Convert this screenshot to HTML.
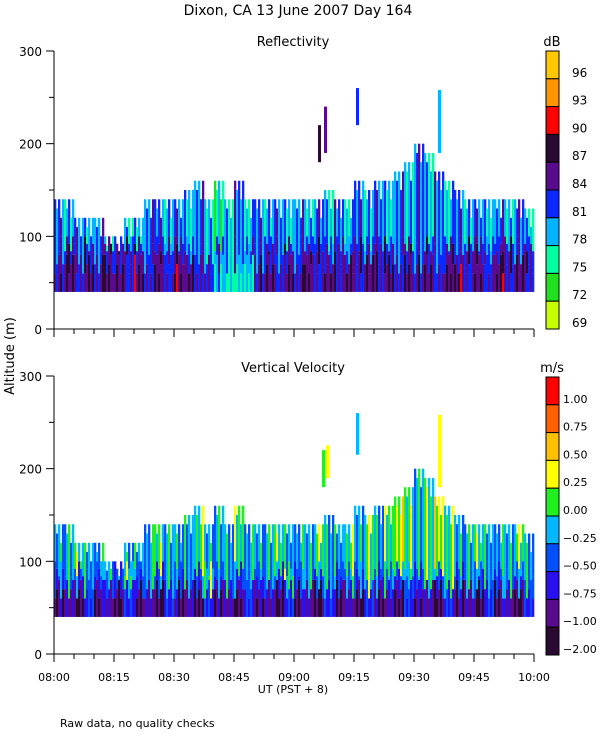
<!DOCTYPE html>
<html><head><meta charset="utf-8"><style>
body{margin:0;background:#fff;}
svg{display:block;font-family:"DejaVu Sans","Liberation Sans",sans-serif;}
</style></head><body>
<svg id="c" width="600" height="750" viewBox="0 0 600 750">
<text x="298" y="15" font-size="14" text-anchor="middle">Dixon, CA 13 June 2007  Day 164</text>
<text x="293" y="46" font-size="13" text-anchor="middle">Reflectivity</text>
<text x="293" y="372" font-size="13" text-anchor="middle">Vertical Velocity</text>
<text x="552" y="46" font-size="13" text-anchor="middle">dB</text>
<text x="552" y="372" font-size="13" text-anchor="middle">m/s</text>
<text transform="translate(14,356) rotate(-90)" font-size="13" text-anchor="middle">Altitude (m)</text>
<text x="293" y="693" font-size="11" text-anchor="middle">UT  (PST + 8)</text>
<text x="60" y="727" font-size="11">Raw data, no quality checks</text>
<g id="g"></g>
</svg>
<script>
const timeTicks=["08:00","08:15","08:30","08:45","09:00","09:15","09:30","09:45","10:00"];
const altTicks=[0,100,200,300];
const dbLabels=["96","93","90","87","84","81","78","75","72","69"];
const velLabels=["1.00","0.75","0.50","0.25","0.00","\u22120.25","\u22120.50","\u22120.75","\u22121.00","\u22122.00"];
const tops=[140,140,120,120,120,100,80,120,120,140,140,140,140,150,160,140,160,140,160,140,140,140,140,140,140,140,140,150,140,140,160,150,160,160,170,180,200,190,170,160,150,140,140,140,140,140,140,130];
const refBot="565656656565665533335656565656565656565665656565";
const refMid="454545555454544343444545455454545545454545545545";
const refTop="434343433443434323434343434343434343434343434343";
const velBot="121312131213121312131213121312131213121312131213";
const velMid="343434353434343534343435343434353434353534343434";
const velTop="445444544454445444544454445445454565456544544454";
const refEchoes=[[66,180,220,6],[67.5,190,240,5],[75.5,220,260,4],[96,190,258,3]];
const velEchoes=[[67,180,220,5],[68,190,225,6],[75.5,215,260,4],[96,180,258,6]];
const refColors=["#c8ff00","#20e020","#00ffa0","#00b4ff","#0a28ff","#5a0a8c","#2a0a30","#ff0000","#ff9600","#ffc800"];
const velColors=["#2a0a30","#5a0a8c","#2a10f0","#0050ff","#00b8ff","#20f020","#ffff00","#ffc000","#ff6000","#ff0000"];
const NS="http://www.w3.org/2000/svg";
const g=document.getElementById('g');
const X0=54,X1=534;
function xScale(min){return X0+(X1-X0)*min/120;}
function yScale(base,v){return base-v*278/300;}
function el(t,a){const e=document.createElementNS(NS,t);for(const k in a)e.setAttribute(k,a[k]);g.appendChild(e);return e;}
const subOff=[0,-1,0,1,-1];
function panel(base,bot,mid,top,cols,echoes,nm){
  const bw=(X1-X0)/tops.length;
  for(let i=0;i<tops.length;i++){
    for(let j=0;j<5;j++){
      const x=xScale(i*2.5)+j*bw/5;
      const h=tops[i]-(j==3?20:0)-(j==1?10:0);
      const b1=70+((i+j)%3-1)*10, b2=100-((i*2+j)%3)*8;
      const layers=[[40,b1,+bot[i]],[b1,b2,+mid[i]],[b2,h,+top[i]]];
      layers.forEach((L,li)=>{
        if(L[1]<=L[0])return;
        let off=subOff[(j+i)%5];
        if(li==0&&off>0&&i%4!=0)off=-1;
        let ci=L[2]+off;ci=Math.max(0,Math.min(cols.length-1,ci));
        const r=el('rect',{x:x,y:yScale(base,L[1]),width:bw/5+0.3,height:(L[1]-L[0])*278/300,fill:cols[ci]});
        
        
      });
    }
  }
  for(const e of echoes){
    const r=el('rect',{x:xScale(e[0]),y:yScale(base,e[2]),width:3,height:(e[2]-e[1])*278/300,fill:cols[e[3]]});
    
    
  }
}
function axes(base,nm){
  el('line',{x1:X0,y1:base-278,x2:X0,y2:base,stroke:'#000'});
  el('line',{x1:X0,y1:base,x2:X1,y2:base,stroke:'#000'});
  for(let v=0;v<=300;v+=50){const y=yScale(base,v);el('line',{x1:X0-(v%100==0?8:5),y1:y,x2:X0,y2:y,stroke:'#000'});}
  for(const v of altTicks){const t=el('text',{x:X0-12,y:yScale(base,v)+5,'font-size':12,'text-anchor':'end'});t.textContent=v;
    
    }
  for(let m=0;m<=120;m+=5){const x=xScale(m);el('line',{x1:x,y1:base,x2:x,y2:base+(m%15==0?8:5),stroke:'#000'});}
}
function cbar(top,cols,labels,nm,shift,fs){
  const n=cols.length,h=278/n;
  for(let k=0;k<n;k++){const r=el('rect',{x:546,y:top+k*h,width:13,height:h,fill:cols[n-1-k],stroke:'#000','stroke-width':1});
    
    }
  labels.forEach((l,k)=>{const t=el('text',{x:shift,y:top+(k+1)*h-2,'font-size':fs});t.textContent=l;
    
    });
}
panel(329,refBot,refMid,refTop,refColors,refEchoes,'reflectivity');
panel(654,velBot,velMid,velTop,velColors,velEchoes,'velocity');
axes(329,'reflectivity');axes(654,'velocity');
timeTicks.forEach((l,k)=>{const t=el('text',{x:xScale(k*15),y:681,'font-size':11,'text-anchor':'middle'});t.textContent=l;
  
  });
cbar(51,refColors,dbLabels,'db-colorbar',572,12);
cbar(377,velColors,velLabels,'velocity-colorbar',563,11);
</script>
</body></html>
